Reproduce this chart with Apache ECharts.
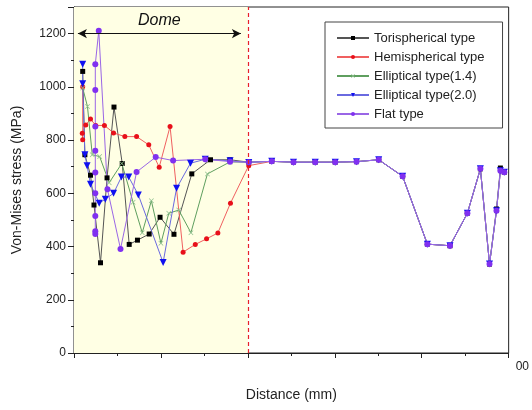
<!DOCTYPE html>
<html>
<head>
<meta charset="utf-8">
<script src="https://cdn.jsdelivr.net/npm/echarts@6/dist/echarts.min.js"></script>
<style>
  html, body { margin: 0; padding: 0; background: #fff; }
  #chart { width: 532px; height: 410px; }
</style>
</head>
<body>
<div id="chart"></div>
<script>
// distance (mm) and von-Mises stress (MPa)
const torDist = [20, 25, 38, 46, 61, 76, 92, 111, 127, 146, 173, 198, 230, 271, 314, 359, 402];
const torStress = [1058, 745, 668, 556, 339, 658, 924, 712, 408, 424, 447, 510, 446, 673, 726, 726, 717];

const hemDist = [20, 20, 19, 27, 38, 50, 70, 91, 117, 144, 172, 196, 221, 251, 279, 305, 331, 360, 402];
const hemStress = [1000, 801, 826, 857, 879, 855, 855, 827, 813, 813, 782, 698, 851, 379, 408, 429, 451, 563, 704];

const e14Dist = [20, 31, 42, 59, 81, 110, 136, 157, 178, 200, 218, 241, 269, 307, 359, 402];
const e14Stress = [996, 926, 745, 738, 640, 712, 566, 452, 572, 412, 525, 537, 452, 673, 718, 717];

const e20Dist = [20, 20, 25, 30, 38, 58, 72, 91, 109, 126, 148, 205, 236, 268, 302, 359, 402];
const e20Stress = [1085, 1012, 745, 704, 634, 563, 578, 600, 661, 661, 594, 340, 619, 713, 728, 722, 716];

const flatDist = [49, 49, 49, 49, 49, 49, 49, 49, 49, 57, 77, 107, 144, 188, 228, 302, 359, 402];
const flatStress = [447, 457, 515, 600, 678, 760, 851, 988, 1085, 1211, 615, 391, 680, 736, 723, 728, 719, 717];

// outside the dome all curves lie on top of each other
const tailDist = [455, 505, 555, 601, 650, 701, 756, 813, 865, 905, 935, 956, 972, 981, 990];
const tailStress = [720, 717, 717, 717, 719, 726, 664, 409, 403, 525, 692, 334, 534, 685, 679];
const torTailStress = [720, 717, 717, 717, 719, 726, 664, 409, 403, 525, 692, 334, 541, 695, 679];

const domeEnd = 400;

function pairs(xs, ys) {
    return xs.map((x, i) => [x, ys[i]]);
}

const font = "Arial, 'Liberation Sans', sans-serif";

const chart = echarts.init(document.getElementById("chart"));

function lineSeries(name, data, lineColor, markColor, symbol, size, extra) {
    return Object.assign({
        name: name,
        type: "line",
        data: data,
        symbol: symbol,
        symbolSize: size,
        showAllSymbol: true,
        animation: false,
        lineStyle: { color: lineColor, width: 1 },
        itemStyle: { color: markColor },
        emphasis: { disabled: true }
    }, extra || {});
}

chart.setOption({
    animation: false,
    textStyle: { fontFamily: font },
    grid: {
        left: 74, right: 18, top: 7, bottom: 57,
        show: true, borderColor: "#222", borderWidth: 1
    },
    legend: {
        orient: "vertical",
        left: 325, top: 22,
        padding: [9, 18, 7, 11],
        itemWidth: 32, itemHeight: 5, itemGap: 5,
        borderColor: "#444", borderWidth: 1, borderRadius: 0,
        backgroundColor: "#fff",
        textStyle: { fontSize: 13, lineHeight: 14, color: "#222", fontFamily: font },
        data: ["Torispherical type", "Hemispherical type", "Elliptical type(1.4)", "Elliptical type(2.0)", "Flat type"]
    },
    xAxis: {
        type: "value", min: 0, max: 1000, interval: 200,
        name: "Distance (mm)", nameLocation: "middle", nameGap: 35,
        nameTextStyle: { fontSize: 14, color: "#222" },
        axisLine: { lineStyle: { color: "#222" } },
        axisTick: { length: 5, lineStyle: { color: "#222" } },
        minorTick: { show: true, splitNumber: 2, length: 3, lineStyle: { color: "#222" } },
        splitLine: { show: false },
        axisLabel: {
            fontSize: 12, color: "#222", align: "left", padding: [0, 0, 0, 7],
            formatter: v => (v === 1000 ? "00" : "")
        }
    },
    yAxis: {
        type: "value", min: 0, max: 1300, interval: 200,
        name: "Von-Mises stress (MPa)", nameLocation: "middle", nameGap: 50,
        nameTextStyle: { fontSize: 14, color: "#222" },
        axisLine: { show: true, lineStyle: { color: "#222" } },
        axisTick: { length: 6, lineStyle: { color: "#222" } },
        minorTick: { show: true, splitNumber: 2, length: 3, lineStyle: { color: "#222" } },
        splitLine: { show: false },
        axisLabel: {
            fontSize: 12, color: "#222", margin: 8, showMaxLabel: false,
            formatter: v => String(v)
        }
    },
    series: [
        lineSeries("Torispherical type", pairs(torDist.concat(tailDist), torStress.concat(torTailStress)),
            "#555", "#000", "rect", 5, {
                markArea: {
                    silent: true,
                    itemStyle: { color: "#ffffe4" },
                    data: [[{ xAxis: 0 }, { xAxis: domeEnd }]]
                },
                markLine: {
                    silent: true,
                    animation: false,
                    symbol: "none",
                    data: [
                        {
                            xAxis: domeEnd,
                            lineStyle: { color: "#e8202a", type: [4, 3], width: 1.2 },
                            label: { show: false }
                        },
                        [
                            { coord: [9, 1200], symbol: "arrow", symbolSize: [7, 9] },
                            {
                                coord: [384, 1200], symbol: "arrow", symbolSize: [7, 9],
                                lineStyle: { color: "#111", type: "solid", width: 1 },
                                label: {
                                    show: true, position: "middle", formatter: "Dome",
                                    fontSize: 16, fontStyle: "italic", color: "#111",
                                    fontFamily: font, distance: 5
                                }
                            }
                        ]
                    ]
                }
            }),
        lineSeries("Hemispherical type", pairs(hemDist.concat(tailDist), hemStress.concat(tailStress)),
            "#f06060", "#e8101a", "circle", 5),
        lineSeries("Elliptical type(1.4)", pairs(e14Dist.concat(tailDist), e14Stress.concat(tailStress)),
            "#5f9f5f", "#8fc08f",
            "path://M0,1L1,0L5,4L9,0L10,1L6,5L10,9L9,10L5,6L1,10L0,9L4,5Z", 5),
        lineSeries("Elliptical type(2.0)", pairs(e20Dist.concat(tailDist), e20Stress.concat(tailStress)),
            "#6a6ae0", "#1010f0", "path://M0,0L10,0L5,9Z", 7),
        lineSeries("Flat type", pairs(flatDist.concat(tailDist), flatStress.concat(tailStress)),
            "#9a66e6", "#8030f0", "circle", 6)
    ]
});
</script>
</body>
</html>
